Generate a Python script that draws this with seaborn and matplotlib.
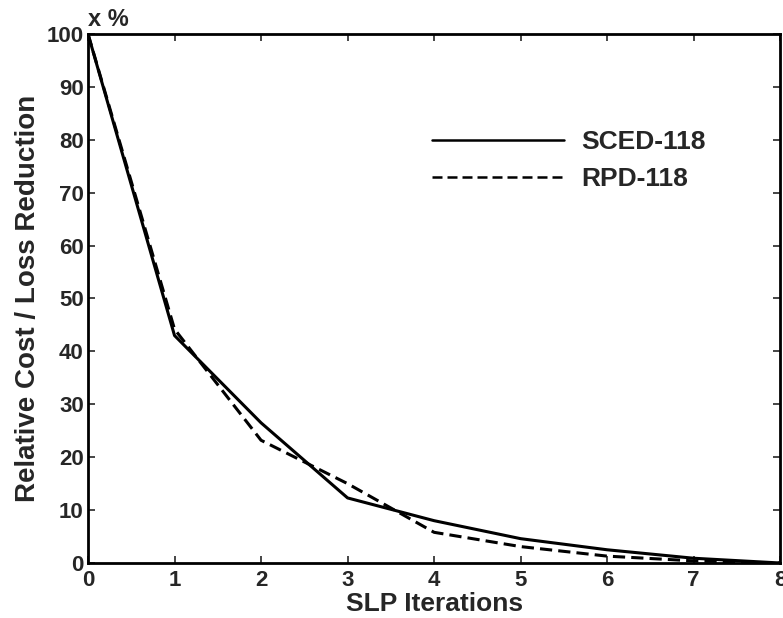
import matplotlib
matplotlib.use("Agg")
import matplotlib.pyplot as plt
import seaborn as sns
import pandas as pd

iterations = [0, 1, 2, 3, 4, 5, 6, 7, 8]
sced_118 = [100, 43, 26.5, 12.3, 8.0, 4.6, 2.5, 0.9, 0.0]
rpd_118 = [100, 44.2, 23.2, 15.0, 5.8, 3.1, 1.3, 0.4, 0.0]
series_names = ["SCED-118", "RPD-118"]
x_ticks = [0, 1, 2, 3, 4, 5, 6, 7, 8]
y_ticks = [0, 10, 20, 30, 40, 50, 60, 70, 80, 90, 100]

df = pd.DataFrame({
    "iter": iterations * 2,
    "value": sced_118 + rpd_118,
    "series": [series_names[0]] * len(iterations) + [series_names[1]] * len(iterations),
})

sns.set_style("ticks")
plt.rcParams["font.family"] = ["Liberation Sans", "DejaVu Sans"]
plt.rcParams["font.weight"] = "bold"

fig = plt.figure(figsize=(7.83, 6.18), dpi=100)
ax = fig.add_axes([0.1124, 0.089, 0.884, 0.856])

sns.lineplot(data=df, x="iter", y="value", hue="series", style="series",
             palette=["black", "black"], dashes=[(None, None), (4, 2)],
             linewidth=2.2, ax=ax, legend=True)

ax.set_xlim(0, 8)
ax.set_ylim(0, 100)
ax.set_xticks(x_ticks)
ax.set_yticks(y_ticks)
ax.tick_params(direction="in", length=5, width=1.2, top=True, right=True,
               labelsize=16)
ax.tick_params(axis="x", pad=5)
ax.tick_params(axis="y", pad=3)
for lab in ax.get_xticklabels() + ax.get_yticklabels():
    lab.set_fontweight("bold")
for sp in ax.spines.values():
    sp.set_visible(True)
    sp.set_linewidth(2)
    sp.set_color("black")

ax.set_xlabel("SLP Iterations", fontsize=19, fontweight="bold", labelpad=1)
ax.set_ylabel("Relative Cost / Loss Reduction", fontsize=20, fontweight="bold", labelpad=4)
ax.text(0.0, 1.006, "x %", transform=ax.transAxes, fontsize=17, fontweight="bold",
        ha="left", va="bottom")

leg = ax.legend(loc="upper left", bbox_to_anchor=(0.497, 0.818), frameon=False,
                borderpad=0, borderaxespad=0,
                handlelength=5.0, handletextpad=0.65, labelspacing=0.5,
                prop={"size": 19, "weight": "bold"})
for line in leg.get_lines():
    line.set_linewidth(1.8)
    line.set_color("black")

fig.savefig("out.png", dpi=100)
